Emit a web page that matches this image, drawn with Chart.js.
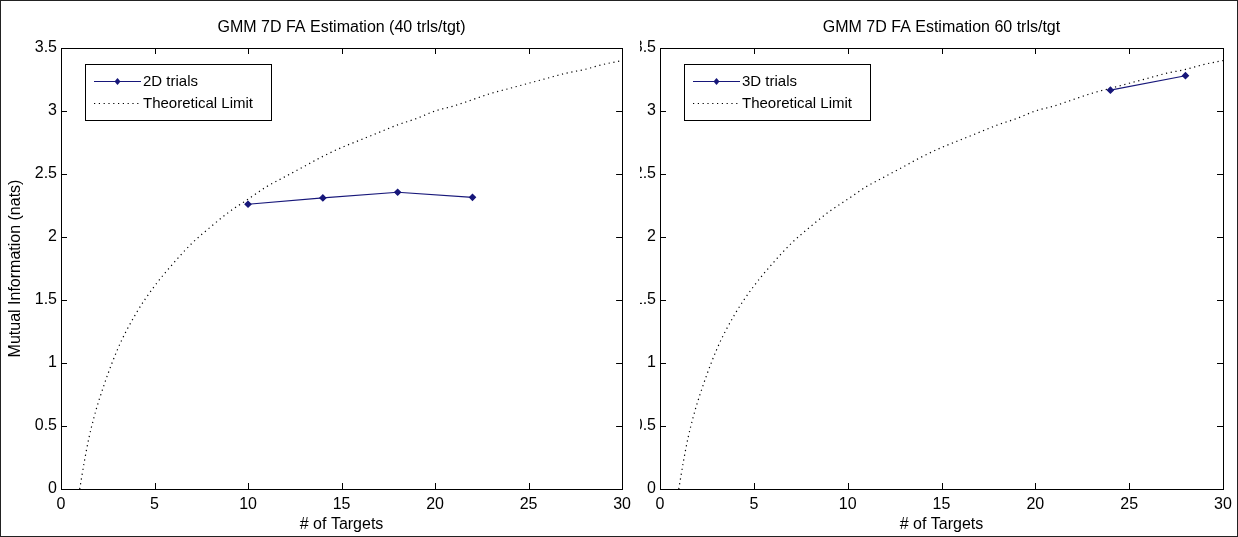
<!DOCTYPE html>
<html>
<head>
<meta charset="utf-8">
<script src="https://cdn.jsdelivr.net/npm/chart.js"></script>
<style>
  body { margin: 0; background: #fff; }
  #frame {
    position: relative;
    width: 1238px;
    height: 537px;
    box-sizing: border-box;
    border: 1px solid #222;
    overflow: hidden;
    background: #fff;
  }
  canvas { position: absolute; top: 0; }
  #chartLeft { left: 0; }
  #chartRight { left: 639px; }
</style>
</head>
<body>
<div id="frame">
  <canvas id="chartLeft" width="636" height="537"></canvas>
  <canvas id="chartRight" width="599" height="537"></canvas>
</div>

<script>
// DATA
// theoretical limit curve (same in both panels)
const theoryTargets = [1, 1.25, 1.5, 1.75, 2, 3, 4, 5, 6, 7, 8, 9, 10, 11, 12, 13, 14, 15,
  16, 17, 18, 19, 20, 21, 22, 23, 24, 25, 26, 27, 28, 29, 30];
const theoryMI = [0, 0.22, 0.41, 0.56, 0.69, 1.10, 1.39, 1.61, 1.79, 1.95, 2.08, 2.20, 2.30, 2.40,
  2.48, 2.56, 2.64, 2.71, 2.77, 2.83, 2.89, 2.94, 3.00, 3.04, 3.09, 3.14, 3.18, 3.22, 3.26,
  3.30, 3.33, 3.37, 3.40];

// left panel: 2D trials (40 trls/tgt)
const targets2D = [10, 14, 18, 22];
const mi2D = [2.26, 2.31, 2.355, 2.315];

// right panel: 3D trials (60 trls/tgt)
const targets3D = [24, 28];
const mi3D = [3.165, 3.28];

// axis ticks
const xTicks = [0, 5, 10, 15, 20, 25, 30];
const yTicks = [0, 0.5, 1, 1.5, 2, 2.5, 3, 3.5];

const lineBlue = '#17177a';
const tickFont = { family: "'Liberation Sans', Arial, sans-serif", size: 16 };
const labelFont = { family: "'Liberation Sans', Arial, sans-serif", size: 16 };
const legendFont = { family: "'Liberation Sans', Arial, sans-serif", size: 15 };

// frame round the plot area + inward tick marks on all four sides (matlab look), and the title
const boxTicks = {
  id: 'boxTicks',
  afterDraw(chart, args, opts) {
    const ctx = chart.ctx, ca = chart.chartArea;
    const xs = chart.scales.x, ys = chart.scales.y;
    const len = 6;
    ctx.save();
    ctx.strokeStyle = '#000';
    ctx.lineWidth = 1;
    ctx.strokeRect(Math.round(ca.left) + 0.5, Math.round(ca.top) + 0.5,
      Math.round(ca.right - ca.left), Math.round(ca.bottom - ca.top));
    ctx.beginPath();
    xTicks.forEach(v => {
      const px = Math.round(xs.getPixelForValue(v)) + 0.5;
      ctx.moveTo(px, ca.bottom); ctx.lineTo(px, ca.bottom - len);
      ctx.moveTo(px, ca.top); ctx.lineTo(px, ca.top + len);
    });
    yTicks.forEach(v => {
      const py = Math.round(ys.getPixelForValue(v)) + 0.5;
      ctx.moveTo(ca.left, py); ctx.lineTo(ca.left + len, py);
      ctx.moveTo(ca.right, py); ctx.lineTo(ca.right - len, py);
    });
    ctx.stroke();
    // title centred over the plot box
    ctx.fillStyle = '#000';
    ctx.font = labelFont.size + 'px ' + labelFont.family;
    ctx.textAlign = 'center';
    ctx.textBaseline = 'middle';
    ctx.fillText(opts.text, (ca.left + ca.right) / 2, 27);
    ctx.restore();
  }
};

// boxed legend in the top left corner of the plot
const boxLegend = {
  id: 'boxLegend',
  afterDraw(chart) {
    const ctx = chart.ctx, ca = chart.chartArea;
    const x0 = Math.round(ca.left) + 24, y0 = 63;
    const w = 186, h = 56;
    ctx.save();
    ctx.fillStyle = '#fff';
    ctx.fillRect(x0, y0, w, h);
    ctx.strokeStyle = '#000';
    ctx.lineWidth = 1;
    ctx.strokeRect(x0 + 0.5, y0 + 0.5, w, h);
    ctx.font = legendFont.size + 'px ' + legendFont.family;
    ctx.textBaseline = 'middle';
    chart.data.datasets.forEach((ds, i) => {
      const cy = y0 + 17.5 + i * 22;
      ctx.beginPath();
      ctx.strokeStyle = ds.borderColor;
      ctx.lineWidth = ds.borderWidth;
      ctx.setLineDash(ds.borderDash || []);
      ctx.moveTo(x0 + 9, cy); ctx.lineTo(x0 + 56, cy);
      ctx.stroke();
      ctx.setLineDash([]);
      if (ds.pointRadius > 0) {
        const mx = x0 + 32.5;
        ctx.fillStyle = ds.borderColor;
        ctx.beginPath();
        ctx.moveTo(mx, cy - 3.5); ctx.lineTo(mx + 3, cy); ctx.lineTo(mx, cy + 3.5); ctx.lineTo(mx - 3, cy);
        ctx.closePath();
        ctx.fill();
      }
      ctx.fillStyle = '#000';
      ctx.fillText(ds.label, x0 + 58, cy);
    });
    ctx.restore();
  }
};

function makePanel(canvasId, titleText, trialLabel, trialX, trialY, yAxisWidth, padRight, showYTitle) {
  const trialPts = trialX.map((x, i) => ({ x: x, y: trialY[i] }));
  const theoryPts = theoryTargets.map((x, i) => ({ x: x, y: theoryMI[i] }));
  return new Chart(document.getElementById(canvasId), {
    type: 'line',
    data: {
      datasets: [{
        label: trialLabel,
        data: trialPts,
        borderColor: lineBlue,
        backgroundColor: lineBlue,
        borderWidth: 1.2,
        pointStyle: 'rectRot',
        pointRadius: 3,
        pointBackgroundColor: lineBlue,
        pointBorderColor: lineBlue,
        tension: 0
      }, {
        label: 'Theoretical Limit',
        data: theoryPts,
        borderColor: '#000',
        borderWidth: 1.2,
        borderDash: [1.2, 3.6],
        pointRadius: 0,
        cubicInterpolationMode: 'monotone'
      }]
    },
    options: {
      responsive: false,
      animation: false,
      devicePixelRatio: 1,
      layout: { padding: { top: 47, right: padRight, bottom: 0, left: 0 } },
      plugins: {
        legend: { display: false },
        tooltip: { enabled: false },
        title: { display: false },
        boxTicks: { text: titleText }
      },
      scales: {
        x: {
          type: 'linear',
          min: 0, max: 30,
          afterFit(scale) { scale.height = 49; },
          afterBuildTicks(scale) { scale.ticks = xTicks.map(v => ({ value: v })); },
          grid: { display: false, drawTicks: false },
          border: { display: false },
          ticks: { color: '#000', font: tickFont, padding: 6, maxRotation: 0, autoSkip: false,
            callback: v => String(v) },
          title: {
            display: true, text: '# of Targets', color: '#000',
            font: labelFont, padding: { top: 0, bottom: 4 }
          }
        },
        y: {
          type: 'linear',
          min: 0, max: 3.5,
          afterFit(scale) { scale.width = yAxisWidth; },
          afterBuildTicks(scale) { scale.ticks = yTicks.map(v => ({ value: v })); },
          grid: { display: false, drawTicks: false },
          border: { display: false },
          ticks: { color: '#000', font: tickFont, padding: 4, autoSkip: false,
            callback: v => String(v) },
          title: {
            display: showYTitle, text: 'Mutual Information (nats)', color: '#000',
            font: labelFont, padding: { top: 5, bottom: 0 }
          }
        }
      }
    },
    plugins: [boxTicks, boxLegend]
  });
}

makePanel('chartLeft', 'GMM 7D FA Estimation (40 trls/tgt)', '2D trials', targets2D, mi2D, 60, 14, true);
// right panel canvas starts a little left of its plot box, so its tick labels get cut as in the original
makePanel('chartRight', 'GMM 7D FA Estimation 60 trls/tgt', '3D trials', targets3D, mi3D, 20, 16, false);
</script>
</body>
</html>
